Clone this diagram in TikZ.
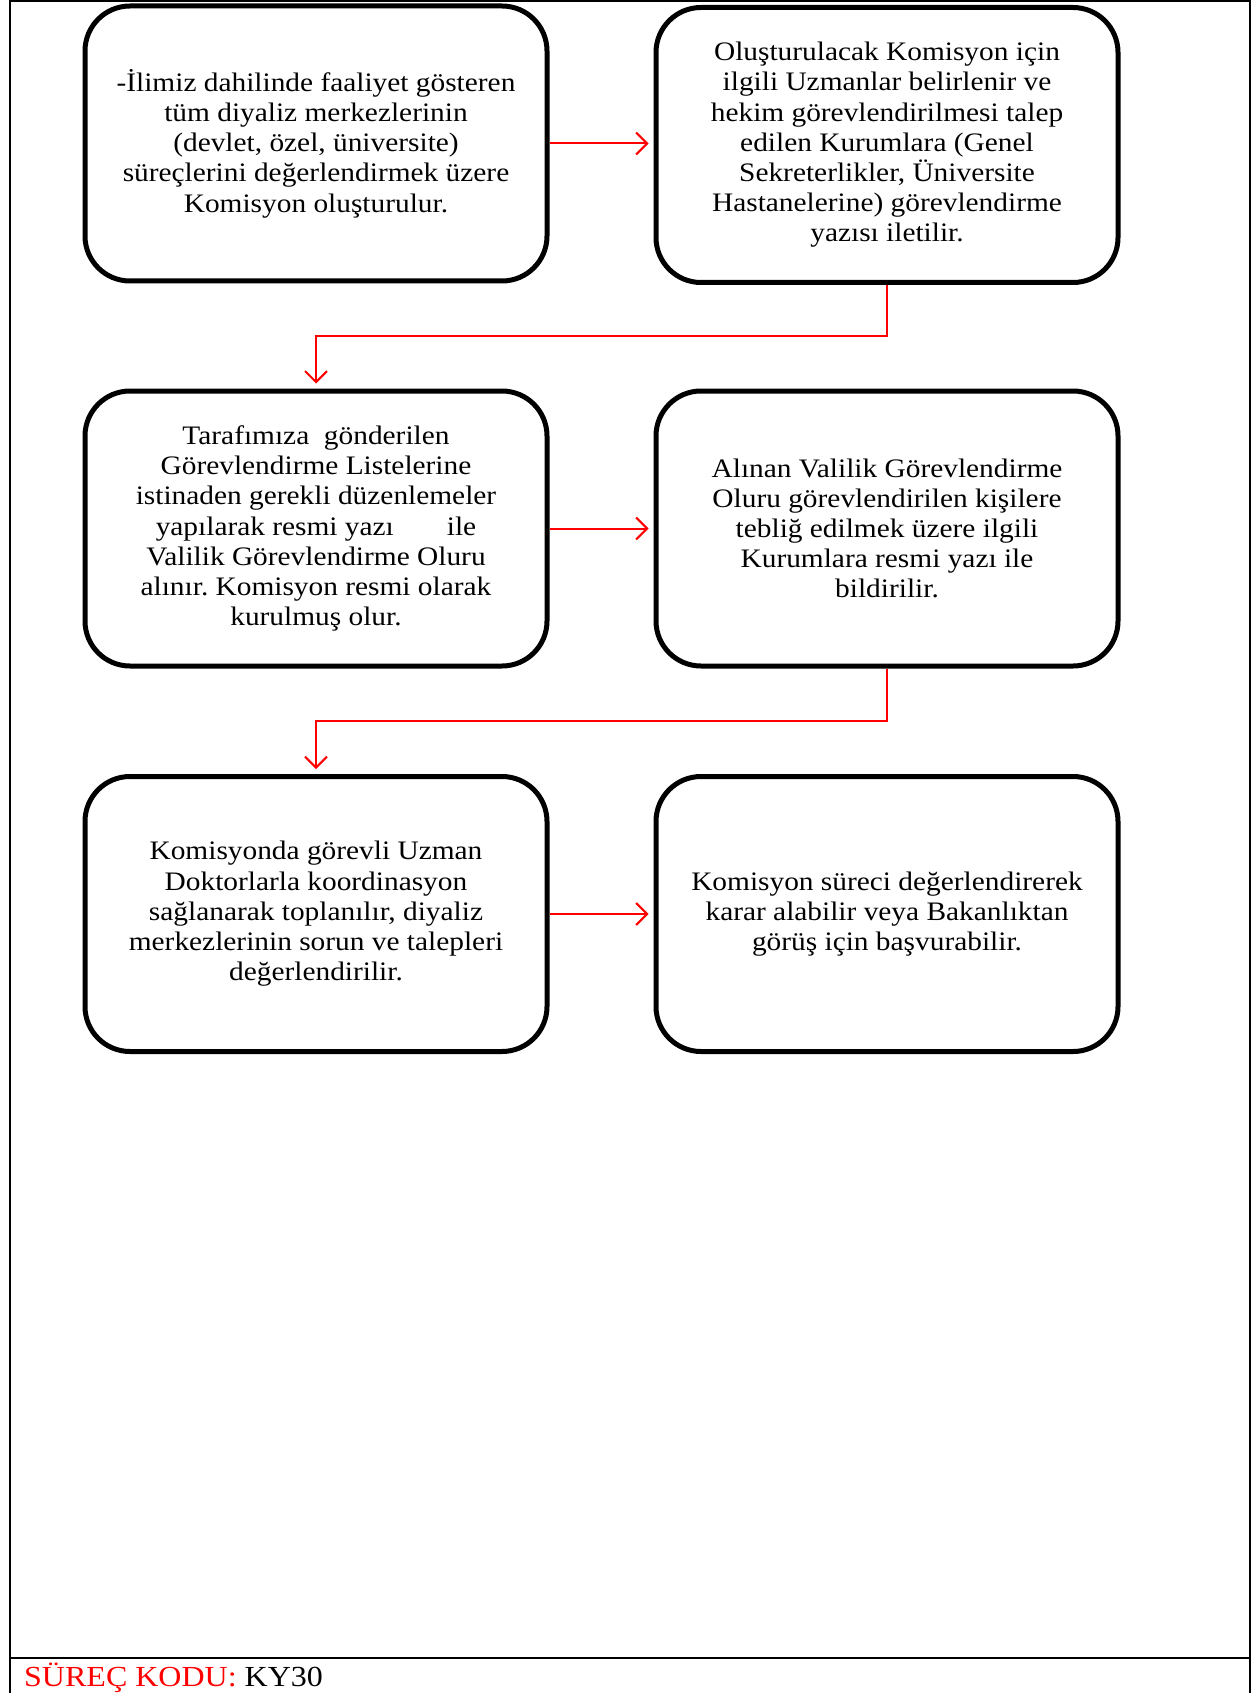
\documentclass[tikz,border=0pt]{standalone}
\usepackage{fontspec}
\setmainfont{Liberation Serif}[FakeStretch=1.1]
\usetikzlibrary{arrows.meta}
\frenchspacing
\begin{document}
\begin{tikzpicture}[x=1pt,y=-1pt,
  stepbox/.style={draw=black, line width=5pt, rounded corners=45pt, rectangle,
    minimum width=462pt, minimum height=275pt, align=center, inner sep=0pt,
    font=\fontsize{26.7}{30.2}\selectfont},
  redarrow/.style={draw=red, line width=2pt,
    -{Straight Barb[length=11pt,width=22pt,line width=2pt]}, shorten >=5pt},
  frameline/.style={draw=black, line width=2.5pt}]
\useasboundingbox (0,0) rectangle (1255,1693);
\fill[white] (0,0) rectangle (1255,1693);
% frame
\draw[frameline] (10,1693) -- (10,1) -- (1250,1) -- (1250,1693);
\draw[frameline] (10,1658) -- (1250,1658);
% boxes
\node[stepbox] (b1) at (316,143.5) {-İlimiz dahilinde faaliyet gösteren\\tüm diyaliz merkezlerinin\\(devlet, özel, üniversite)\\süreçlerini değerlendirmek üzere\\Komisyon oluşturulur.};
\node[stepbox] (b2) at (887,145) {Oluşturulacak Komisyon için\\ilgili Uzmanlar belirlenir ve\\hekim görevlendirilmesi talep\\edilen Kurumlara (Genel\\Sekreterlikler, Üniversite\\Hastanelerine) görevlendirme\\yazısı iletilir.};
\node[stepbox] (b3) at (316,528.5) {Tarafımıza\ \ gönderilen\\Görevlendirme Listelerine\\istinaden gerekli düzenlemeler\\yapılarak resmi yazı\hspace{53pt}ile\\Valilik Görevlendirme Oluru\\alınır. Komisyon resmi olarak\\kurulmuş olur.};
\node[stepbox] (b4) at (887,528.5) {Alınan Valilik Görevlendirme\\Oluru görevlendirilen kişilere\\tebliğ edilmek üzere ilgili\\Kurumlara resmi yazı ile\\bildirilir.};
\node[stepbox] (b5) at (316,914) {Komisyonda görevli Uzman\\Doktorlarla koordinasyon\\sağlanarak toplanılır, diyaliz\\merkezlerinin sorun ve talepleri\\değerlendirilir.};
\node[stepbox] (b6) at (887,914) {Komisyon süreci değerlendirerek\\karar alabilir veya Bakanlıktan\\görüş için başvurabilir.};
% connectors
\coordinate (m1) at (600,336);
\coordinate (m2) at (600,721);
\draw[redarrow] (b1.east) -- (b2.west |- b1.east);
\draw[redarrow] (b2.south) |- (m1) -| (b3.north);
\draw[redarrow] (b3.east) -- (b4.west);
\draw[redarrow] (b4.south) |- (m2) -| (b5.north);
\draw[redarrow] (b5.east) -- (b6.west);
% footer
\node[anchor=base west, inner sep=0pt, font=\fontsize{29.1}{33}\selectfont] (code) at (24,1686) {\textcolor{red}{SÜREÇ KODU:} KY30};
\end{tikzpicture}
\end{document}
